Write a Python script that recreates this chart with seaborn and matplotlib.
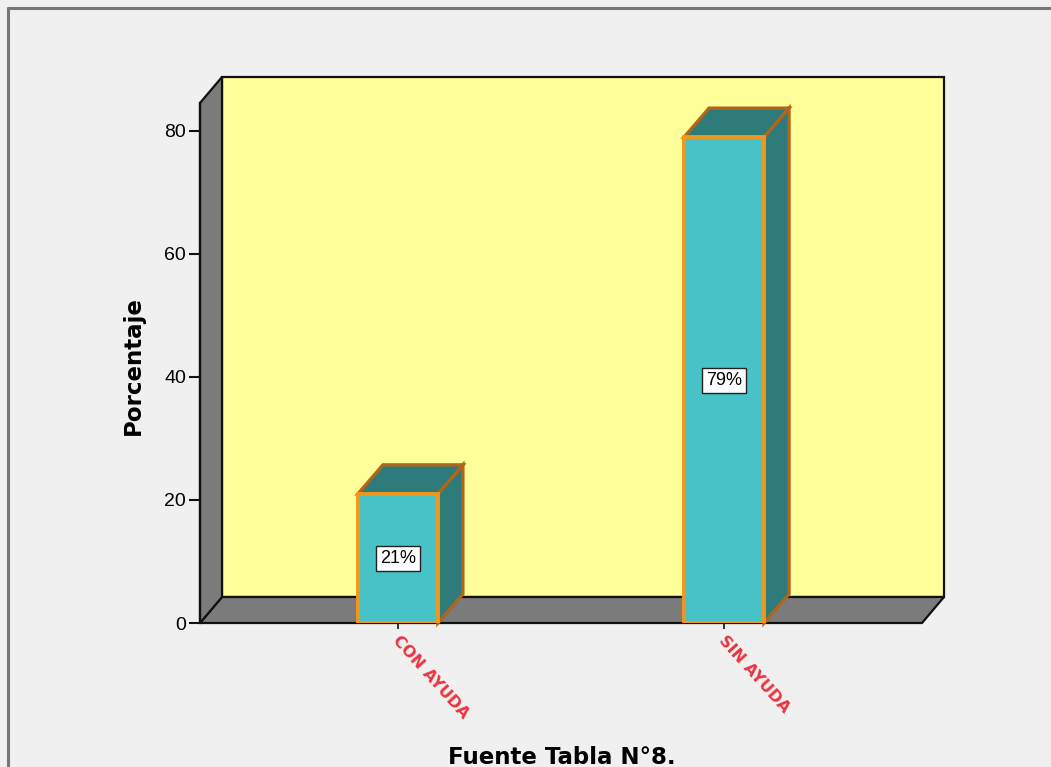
import matplotlib
matplotlib.use("Agg")
import matplotlib.pyplot as plt
from matplotlib.patches import Polygon
from matplotlib.lines import Line2D
from matplotlib.transforms import ScaledTranslation
import seaborn as sns
import pandas as pd

categories = ["CON AYUDA", "SIN AYUDA"]
values = [21, 79]
yticks = [0, 20, 40, 60, 80]

df = pd.DataFrame({"categoria": categories, "porcentaje": values})

sns.set_style("white")
plt.rcParams["font.family"] = ["DejaVu Sans"]

BG = "#f0f0f0"
fig = plt.figure(figsize=(10.51, 7.67), dpi=100, facecolor=BG)
ax = fig.add_axes([200 / 1051, (767 - 623) / 767, 722 / 1051, (623 - 103) / 767])
ax.set_facecolor("none")

sns.barplot(data=df, x="categoria", y="porcentaje", ax=ax, width=0.245,
            color="#47c3c7", saturation=1, edgecolor="#f2961c", linewidth=2.8,
            zorder=3)

xmin, xmax = -0.607, 1.607
ytop = 84.55
ax.set_xlim(xmin, xmax)
ax.set_ylim(0, ytop)


def shifted(x, y, dxp, dyp):
    X, Y = ax.transData.transform((x, y))
    return tuple(ax.transData.inverted().transform((X + dxp, Y + dyp)))


WDX, WDY = 22, 26   # depth of the walls, pixels
BDX, BDY = 25, 29   # depth of the bars, pixels

# back wall
ax.add_patch(Polygon([shifted(xmin, 0, WDX, WDY), shifted(xmax, 0, WDX, WDY),
                      shifted(xmax, ytop, WDX, WDY), shifted(xmin, ytop, WDX, WDY)],
                     closed=True, fc="#ffff99", ec="#111111", lw=1.6,
                     zorder=0.5, clip_on=False))
# floor
ax.add_patch(Polygon([(xmin, 0), (xmax, 0), shifted(xmax, 0, WDX, WDY),
                      shifted(xmin, 0, WDX, WDY)],
                     closed=True, fc="#7b7b7b", ec="#111111", lw=1.6,
                     zorder=0.6, clip_on=False))
# left wall
ax.add_patch(Polygon([(xmin, 0), (xmin, ytop), shifted(xmin, ytop, WDX, WDY),
                      shifted(xmin, 0, WDX, WDY)],
                     closed=True, fc="#7b7b7b", ec="#111111", lw=1.6,
                     zorder=0.7, clip_on=False))

# top and side faces of the bars
for bar, v in zip(ax.patches[:len(values)], values):
    x0 = bar.get_x()
    x1 = x0 + bar.get_width()
    h = bar.get_height()
    ax.add_patch(Polygon([(x1, 0), (x1, h), shifted(x1, h, BDX, BDY),
                          shifted(x1, 0, BDX, BDY)],
                         closed=True, fc="#2e7b7b", ec="#b0661a", lw=2.4,
                         zorder=2.5, clip_on=False))
    ax.add_patch(Polygon([(x0, h), (x1, h), shifted(x1, h, BDX, BDY),
                          shifted(x0, h, BDX, BDY)],
                         closed=True, fc="#2e7b7b", ec="#b0661a", lw=2.4,
                         zorder=2.6, clip_on=False))
    ax.text(x0 + bar.get_width() / 2, h / 2, f"{v}%", ha="center", va="center",
            fontsize=13, family="Liberation Sans", color="black", zorder=6,
            bbox=dict(boxstyle="square,pad=0.22", fc="white", ec="#222222", lw=1))

# axes styling
for side in ["top", "right", "bottom"]:
    ax.spines[side].set_visible(False)
ax.spines["left"].set_color("#111111")
ax.spines["left"].set_linewidth(1.6)
ax.spines["left"].set_zorder(1)
ax.set_yticks(yticks)
ax.tick_params(axis="y", direction="out", length=8, width=1.5, color="#111111",
               labelsize=14, labelcolor="black", pad=2, left=True)
for lbl in ax.get_yticklabels():
    lbl.set_family("Liberation Sans")
ax.tick_params(axis="x", direction="out", length=4, width=1.2, color="#111111",
               pad=3, bottom=True)
ax.set_xlabel("")
ax.set_ylabel("")
ax.set_xticks(range(len(categories)))
ax.set_xticklabels(categories, rotation=-48, ha="left", va="top",
                   fontsize=11.5, fontweight="bold", color="#ea3440")
for lbl in ax.get_xticklabels():
    lbl.set_transform(lbl.get_transform() +
                      ScaledTranslation(-6 / 72, 0, fig.dpi_scale_trans))

fig.text(133 / 1051, 1 - 366 / 767, "Porcentaje", rotation=90, ha="center",
         va="center", fontsize=16.5, fontweight="bold", color="black")
fig.text(562 / 1051, 3 / 767, "Fuente Tabla N°8.", ha="center", va="baseline",
         fontsize=16.5, fontweight="bold", color="black")

# outer frame
fig.add_artist(Line2D([8 / 1051, 1], [1 - 7.5 / 767, 1 - 7.5 / 767],
                      transform=fig.transFigure, color="#777777", lw=2.2))
fig.add_artist(Line2D([8 / 1051, 8 / 1051], [0, 1 - 7.5 / 767],
                      transform=fig.transFigure, color="#777777", lw=2.2))

fig.savefig("out.png", dpi=100, facecolor=BG)
